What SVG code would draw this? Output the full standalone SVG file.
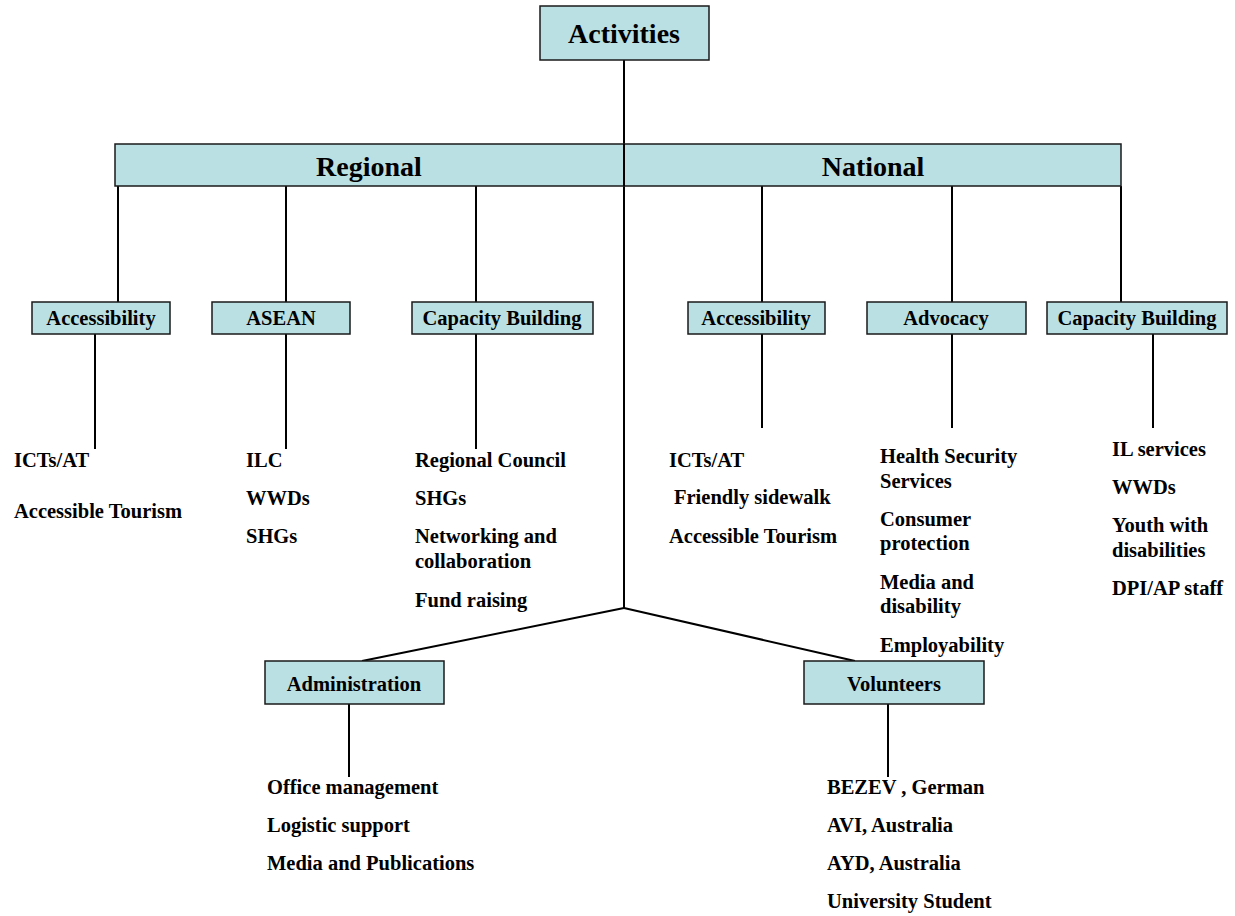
<svg xmlns="http://www.w3.org/2000/svg" width="1235" height="916" viewBox="0 0 1235 916">
<style>
.box{fill:#BBE0E3;stroke:#1a1a1a;stroke-width:1.5}
.ln{stroke:#000;stroke-width:2;fill:none}
.t{font-family:"Liberation Serif","Times New Roman",serif;font-weight:bold;font-size:20.5px;fill:#000}
.c{text-anchor:middle}
.big{font-size:28px}
</style>
<rect width="1235" height="916" fill="#fff"/>
<g id="connectors">
<line class="ln" x1="624" y1="60" x2="624" y2="608"/>
<line class="ln" x1="118" y1="186" x2="118" y2="302"/>
<line class="ln" x1="286" y1="186" x2="286" y2="302"/>
<line class="ln" x1="476" y1="186" x2="476" y2="302"/>
<line class="ln" x1="762" y1="186" x2="762" y2="302"/>
<line class="ln" x1="952" y1="186" x2="952" y2="302"/>
<line class="ln" x1="1121" y1="186" x2="1121" y2="302"/>
<line class="ln" x1="95" y1="334" x2="95" y2="449"/>
<line class="ln" x1="286" y1="334" x2="286" y2="449"/>
<line class="ln" x1="476" y1="334" x2="476" y2="449"/>
<line class="ln" x1="762" y1="334" x2="762" y2="428"/>
<line class="ln" x1="952" y1="334" x2="952" y2="428"/>
<line class="ln" x1="1153" y1="334" x2="1153" y2="428"/>
<line class="ln" stroke-width="1.5" x1="624" y1="608" x2="362" y2="661"/>
<line class="ln" stroke-width="1.5" x1="624" y1="608" x2="855" y2="661"/>
<line class="ln" x1="349" y1="704" x2="349" y2="777"/>
<line class="ln" x1="888" y1="704" x2="888" y2="777"/>
</g>
<g id="activities">
<rect class="box" x="540" y="6" width="169" height="54"/>
<text class="t c big" x="624" y="43">Activities</text>
</g>
<g id="regional">
<rect class="box" x="115" y="144" width="509" height="42"/>
<text class="t c big" x="369" y="176">Regional</text>
</g>
<g id="national">
<rect class="box" x="624" y="144" width="497" height="42"/>
<text class="t c big" x="873" y="176">National</text>
</g>
<line class="ln" x1="624" y1="144" x2="624" y2="186"/>
<g id="reg-accessibility">
<rect class="box" x="32" y="302" width="138" height="32"/>
<text class="t c" x="101" y="325">Accessibility</text>
<text class="t" x="14" y="467">ICTs/AT</text>
<text class="t" x="14" y="518">Accessible Tourism</text>
</g>
<g id="reg-asean">
<rect class="box" x="212" y="302" width="138" height="32"/>
<text class="t c" x="281" y="325">ASEAN</text>
<text class="t" x="246" y="467">ILC</text>
<text class="t" x="246" y="505">WWDs</text>
<text class="t" x="246" y="543">SHGs</text>
</g>
<g id="reg-capacity">
<rect class="box" x="412" y="302" width="181" height="32"/>
<text class="t c" x="502" y="325">Capacity Building</text>
<text class="t" x="415" y="467">Regional Council</text>
<text class="t" x="415" y="505">SHGs</text>
<text class="t" x="415" y="543">Networking and</text>
<text class="t" x="415" y="568">collaboration</text>
<text class="t" x="415" y="607">Fund raising</text>
</g>
<g id="nat-accessibility">
<rect class="box" x="688" y="302" width="137" height="32"/>
<text class="t c" x="756" y="325">Accessibility</text>
<text class="t" x="669" y="467">ICTs/AT</text>
<text class="t" x="674" y="504">Friendly sidewalk</text>
<text class="t" x="669" y="543">Accessible Tourism</text>
</g>
<g id="nat-advocacy">
<rect class="box" x="867" y="302" width="159" height="32"/>
<text class="t c" x="946" y="325">Advocacy</text>
<text class="t" x="880" y="463">Health Security</text>
<text class="t" x="880" y="488">Services</text>
<text class="t" x="880" y="526">Consumer</text>
<text class="t" x="880" y="550">protection</text>
<text class="t" x="880" y="589">Media and</text>
<text class="t" x="880" y="613">disability</text>
<text class="t" x="880" y="652">Employability</text>
</g>
<g id="nat-capacity">
<rect class="box" x="1047" y="302" width="180" height="32"/>
<text class="t c" x="1137" y="325">Capacity Building</text>
<text class="t" x="1112" y="456">IL services</text>
<text class="t" x="1112" y="494">WWDs</text>
<text class="t" x="1112" y="532">Youth with</text>
<text class="t" x="1112" y="557">disabilities</text>
<text class="t" x="1112" y="595">DPI/AP staff</text>
</g>
<g id="administration">
<rect class="box" x="265" y="661" width="179" height="43"/>
<text class="t c" x="354" y="691">Administration</text>
<text class="t" x="267" y="794">Office management</text>
<text class="t" x="267" y="832">Logistic support</text>
<text class="t" x="267" y="870">Media and Publications</text>
</g>
<g id="volunteers">
<rect class="box" x="804" y="661" width="180" height="43"/>
<text class="t c" x="894" y="691">Volunteers</text>
<text class="t" x="827" y="794">BEZEV , German</text>
<text class="t" x="827" y="832">AVI, Australia</text>
<text class="t" x="827" y="870">AYD, Australia</text>
<text class="t" x="827" y="908">University Student</text>
</g>
</svg>
